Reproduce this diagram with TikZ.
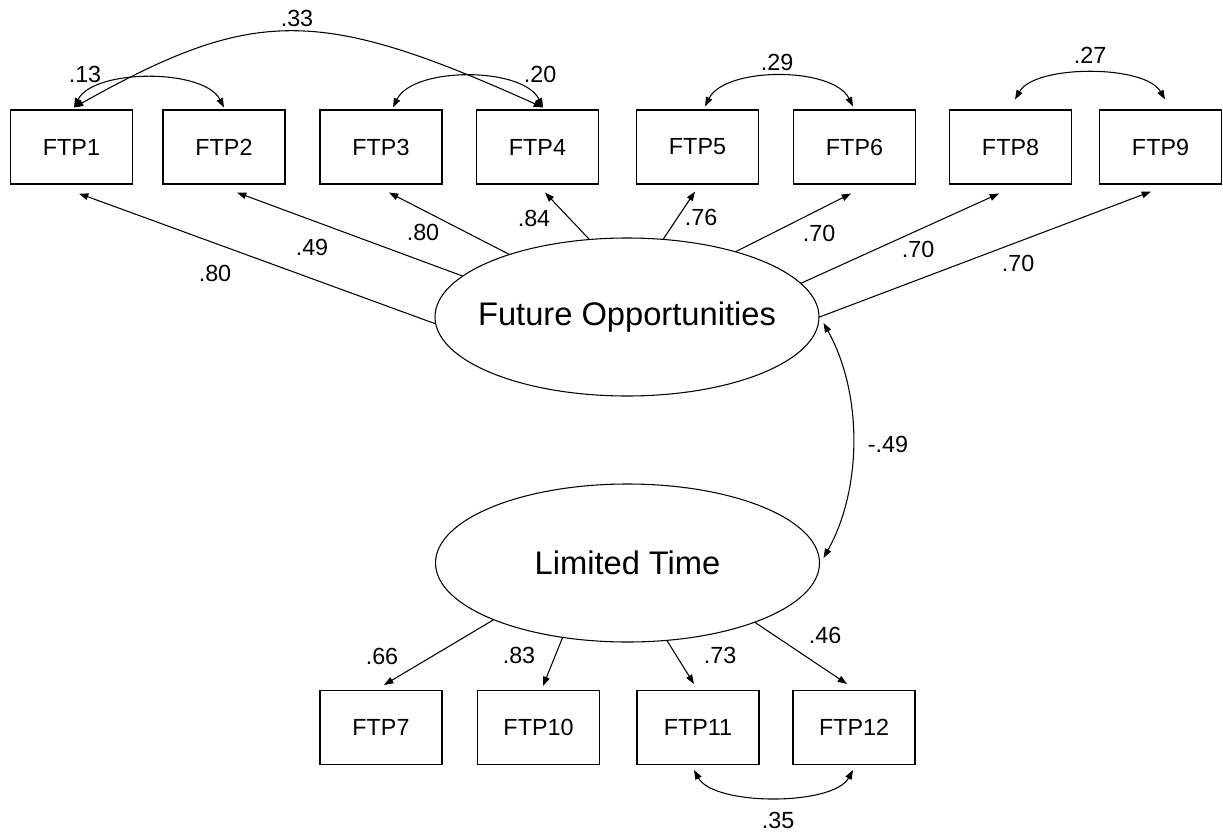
\documentclass[tikz,border=0pt]{standalone}
\usepackage{fontspec}
\setmainfont{Liberation Sans}
\usetikzlibrary{arrows.meta,shapes.geometric,calc}

\begin{document}
\begin{tikzpicture}[%
        x = 0.75pt,
        y = -0.75pt,
        line width = 0.8pt,
        line cap = round,
        > = {Triangle[length = 7pt, width = 5pt]},
        item/.style = {draw, rectangle, minimum width = 91.5pt,
            minimum height = 55.5pt, inner sep = 0pt,
            font = \fontsize{17.5}{20}\selectfont},
        factor/.style = {draw, ellipse, minimum width = 288pt,
            minimum height = 118.5pt, inner sep = 0pt,
            font = \fontsize{24.5}{29}\selectfont},
        weight/.style = {inner sep = 0pt, font = \fontsize{17.5}{20}\selectfont}
    ]

        \useasboundingbox (0, 0) rectangle (1223, 835);

        % The two latent factors.
        \node[factor] (fo) at (627, 317) {\makebox[0pt]{Future Opportunities}};
        \node[factor] (lt) at (627.5, 563) {\makebox[0pt]{Limited Time}};

        % Observed items, top row.
        \node[item] (ftp1) at (71.5, 147) {FTP1};
        \node[item] (ftp2) at (224, 147) {FTP2};
        \node[item] (ftp3) at (381, 147) {FTP3};
        \node[item] (ftp4) at (537.5, 147) {FTP4};
        \node[item] (ftp5) at (697.5, 147) {FTP5};
        \node[item] (ftp6) at (854.5, 147) {FTP6};
        \node[item] (ftp8) at (1010.5, 147) {FTP8};
        \node[item] (ftp9) at (1160.5, 147) {FTP9};

        % Observed items, bottom row.
        \node[item] (ftp7) at (381, 727.5) {FTP7};
        \node[item] (ftp10) at (538.5, 727.5) {FTP10};
        \node[item] (ftp11) at (698, 727.5) {FTP11};
        \node[item] (ftp12) at (854, 727.5) {FTP12};

        % Loadings of Future Opportunities.
        \draw[->] (fo.182) -- ($(ftp1.south) + (7.5, 9)$);
        \draw[->] (fo.166) -- ($(ftp2.south) + (13, 8)$);
        \draw[->] (fo.152) -- ($(ftp3.south) + (8, 8)$);
        \draw[->] (fo.116) -- ($(ftp4.south) + (7.5, 8)$);
        \draw[->] (fo.65) -- ($(ftp5.south) + (-2.5, 7)$);
        \draw[->] (fo.31) -- ($(ftp6.south) + (-3.5, 9)$);
        \draw[->] (fo.11) -- ($(ftp8.south) + (-11.5, 9)$);
        \draw[->] (fo.0) -- ($(ftp9.south) + (-9.5, 7)$);

        % Loadings of Limited Time.
        \draw[->] (lt.203) -- ($(ftp7.north) + (3, -5)$);
        \draw[->] (lt.229) -- ($(ftp10.north) + (4.5, -4)$);
        \draw[->] (lt.297) -- ($(ftp11.north) + (-4, -6)$);
        \draw[->] (lt.335) -- ($(ftp12.north) + (-7, -6)$);

        % Correlated errors and the factor correlation.
        \draw[<->] ($(ftp1.north) + (2.5, -2)$)
            .. controls +(20, -39) and +(-20, -39) .. ($(ftp2.north) + (0, -2)$);
        \draw[<->] ($(ftp1.north) + (2.5, -2)$)
            .. controls +(180, -101) and +(-224, -101) .. ($(ftp4.north) + (5.5, -2)$);
        \draw[<->] ($(ftp4.north) + (5.5, -2)$)
            .. controls +(-20, -41) and +(20, -41) .. ($(ftp3.north) + (12, -2)$);
        \draw[<->] ($(ftp5.north) + (7.5, -3)$)
            .. controls +(20, -40) and +(-20, -40) .. ($(ftp6.north) + (-1.5, -3)$);
        \draw[<->] ($(ftp8.north) + (4.5, -10)$)
            .. controls +(20, -35) and +(-20, -35) .. ($(ftp9.north) + (4.5, -10)$);
        \draw[<->] ($(ftp11.south) + (-4, 5)$)
            .. controls +(20, 36) and +(-20, 36) .. ($(ftp12.south) + (-1, 5)$);
        \draw[<->] ($(fo.east) + (4, 6)$)
            .. controls +(39, 70) and +(39, -70) .. ($(lt.east) + (3.5, -5)$);

        % Estimates.
        \node[weight] (w1) at (215, 273) {.80};
        \node[weight] (w2) at (312, 247) {.49};
        \node[weight] (w3) at (423, 232) {.80};
        \node[weight] (w4) at (534, 218) {.84};
        \node[weight] (w5) at (701, 217) {.76};
        \node[weight] (w6) at (819, 233) {.70};
        \node[weight] (w8) at (918, 249) {.70};
        \node[weight] (w9) at (1018, 263) {.70};
        \node[weight] (w7) at (382, 656) {.66};
        \node[weight] (w10) at (519, 655) {.83};
        \node[weight] (w11) at (720, 655) {.73};
        \node[weight] (w12) at (825, 635) {.46};
        \node[weight] (c12) at (85, 74) {.13};
        \node[weight] (c14) at (297, 18) {.33};
        \node[weight] (c34) at (540, 74) {.20};
        \node[weight] (c56) at (777, 62) {.29};
        \node[weight] (c89) at (1090, 55) {.27};
        \node[weight] (c1112) at (778, 820) {.35};
        \node[weight] (cfl) at (888, 444) {-.49};
    \end{tikzpicture}
\end{document}
